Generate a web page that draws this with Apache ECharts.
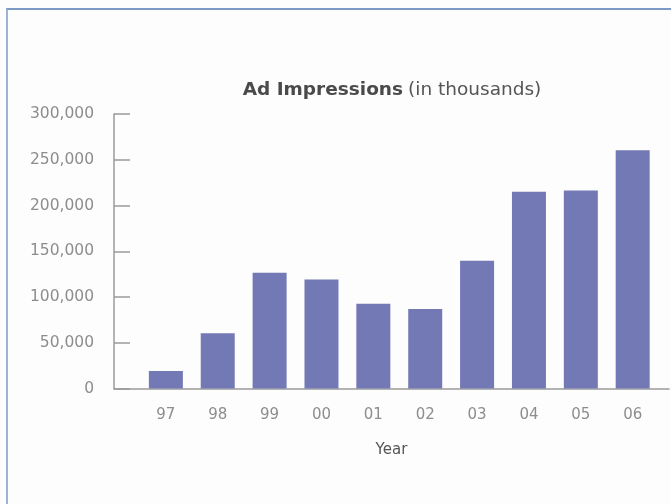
<!DOCTYPE html>
<html>
<head>
<meta charset="utf-8">
<script src="https://cdn.jsdelivr.net/npm/echarts@6/dist/echarts.min.js"></script>
<style>
  html, body { margin: 0; padding: 0; background: #fdfdfd; overflow: hidden; }
  #frame { position: absolute; left: 6px; top: 8px; width: 700px; height: 520px;
           border-left: 2px solid #9db3d3; border-top: 2px solid #7d9ac6; }
  #chart { position: absolute; left: 0; top: 0; width: 671px; height: 504px; }
</style>
</head>
<body>
<div id="frame"></div>
<div id="chart"></div>
<script>
const categories = ['97', '98', '99', '00', '01', '02', '03', '04', '05', '06'];
const impressions = [19000, 60500, 126500, 119000, 92500, 87000, 139500, 215000, 216500, 260500];
const yTicks = [0, 50000, 100000, 150000, 200000, 250000, 300000];

const chart = echarts.init(document.getElementById('chart'), null, { renderer: 'canvas' });
const fontFamily = '"DejaVu Sans", sans-serif';

chart.setOption({
  backgroundColor: 'transparent',
  animation: false,
  title: {
    text: '{b|Ad Impressions} {n|(in thousands)}',
    left: 387, top: 76, textAlign: 'center',
    textStyle: {
      rich: {
        b: { fontFamily, fontSize: 18.5, fontWeight: 'bold', color: '#4a4a4a' },
        n: { fontFamily, fontSize: 18.5, fontWeight: 'normal', color: '#555' }
      }
    }
  },
  grid: { left: 114, top: 114, width: 555, height: 274.5, containLabel: false },
  xAxis: {
    type: 'value', min: -1, max: 9.7, interval: 1,
    name: 'Year', nameLocation: 'middle', nameGap: 54,
    nameTextStyle: { fontFamily, fontSize: 15, color: '#555' },
    axisLine: { show: true, onZero: false, lineStyle: { color: '#9a9a9a', width: 1.5 } },
    axisTick: { show: false },
    splitLine: { show: false },
    axisLabel: {
      margin: 19, fontFamily, fontSize: 15, color: '#8d8d8d',
      showMinLabel: true, showMaxLabel: false,
      formatter: v => (Number.isInteger(v) && categories[v] !== undefined) ? categories[v] : ''
    }
  },
  yAxis: {
    type: 'value', min: yTicks[0], max: yTicks[yTicks.length - 1], interval: yTicks[1] - yTicks[0],
    axisLine: { show: true, onZero: false, lineStyle: { color: '#9a9a9a', width: 1.5 } },
    axisTick: { show: true, inside: true, length: 16, lineStyle: { color: '#9a9a9a', width: 1.5 } },
    splitLine: { show: false },
    axisLabel: {
      margin: 20, fontFamily, fontSize: 15.5, color: '#8d8d8d',
      formatter: v => v.toLocaleString('en-US')
    }
  },
  series: [{
    type: 'bar',
    barWidth: 34,
    itemStyle: { color: '#7379b5' },
    data: impressions.map((v, i) => [i, v])
  }]
});
</script>
</body>
</html>
